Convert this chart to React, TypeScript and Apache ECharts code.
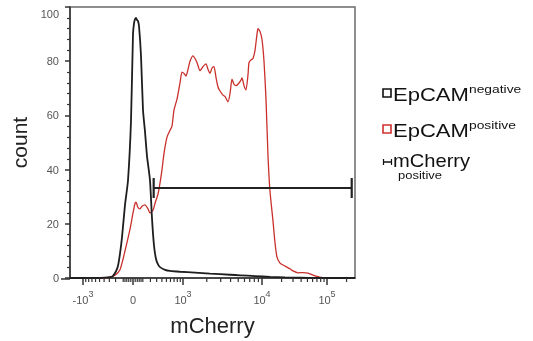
import React, { useEffect, useRef } from "react";
import * as echarts from "echarts";

// Display channel (biexponential display scale) vs. count
const negChannel = [0, 30, 40, 43, 46, 48, 50, 52, 55, 58, 61, 63, 64, 65, 66, 67, 68, 69, 71, 73, 75, 77, 80, 82, 84, 86, 88, 90, 95, 100, 110, 125, 140, 160, 170, 185, 200, 215, 230, 250, 285];
const negCount = [0, 0, 0.3, 0.8, 2.5, 4.5, 9, 15, 27, 36, 58, 90, 94, 95.5, 96, 95.2, 94.8, 93, 82, 62, 54, 45, 36, 22, 12, 7, 5, 4, 3, 2.6, 2.3, 2, 1.6, 1.2, 1, 0.7, 0.4, 0.2, 0.1, 0, 0];

const posChannel = [0, 35, 40, 45, 50, 55, 60, 63, 65, 66, 68, 70, 72, 75, 78, 80, 83, 85, 88, 90, 92, 94, 97, 100, 102, 104, 107, 110, 112, 114, 116, 118, 120, 123, 125, 127, 130, 133, 136, 138, 140, 142, 144, 146, 148, 150, 153, 155, 158, 160, 162, 164, 166, 168, 171, 172, 174, 176, 178, 179, 181, 183, 185, 187, 188, 190, 192, 194, 196, 198, 200, 203, 205, 207, 210, 213, 217, 220, 223, 228, 233, 238, 243, 248, 253, 260, 285];
const posCount = [0, 0, 0.3, 1, 3, 10, 18, 24, 27.5, 28, 26, 25.5, 26.5, 27, 25.5, 24, 25, 27.5, 31, 35, 40, 46, 52, 54.5, 56, 62, 66, 72, 76, 75.5, 74.5, 77, 80, 82, 81, 79.5, 76.5, 78, 79, 77, 75.5, 77.5, 78, 74, 70.5, 69, 67.5, 67, 65, 68, 73.4, 71.5, 71, 71.5, 73, 73.8, 71, 69.4, 75, 79.5, 80.5, 81, 84, 90, 92, 91, 88, 80, 66, 45, 32, 21, 13, 7.7, 5.5, 4.8, 4, 3.4, 2.6, 1.9, 2, 1.8, 1.1, 0.5, 0.1, 0, 0];

// gate "mCherry positive" (mCherry values)
const gateValues = [250, 240000];
const gateCount = 33.2;

// x axis ticks (mCherry values)
const majorTickValues = [-1000, 0, 1000, 10000, 100000];
const majorTickLabels = ["{b|-10}{s|3}", "{b|0}", "{b|10}{s|3}", "{b|10}{s|4}", "{b|10}{s|5}"];
const minorTickValues = [
  -900, -800, -700, -600, -500, -400, -300, -200, -100, -80, -60, -40, -20,
  20, 40, 60, 80, 100, 200, 300, 400, 500, 600, 700, 800, 900,
  2000, 3000, 4000, 5000, 6000, 7000, 8000, 9000,
  20000, 30000, 40000, 50000, 60000, 70000, 80000, 90000, 200000,
];

// biexponential display transform: value -> display channel
function toChannel(v: number): number {
  const s = v < 0 ? -1 : 1;
  const a = Math.abs(v);
  let d: number;
  if (a <= 1000) d = (50 * Math.log(1 + a / 300)) / Math.log(1 + 1000 / 300);
  else if (a <= 10000) d = 50 + 79 * Math.log10(a / 1000);
  else d = 129 + 65 * Math.log10(a / 10000);
  return 63 + s * d;
}

const FONT = "Liberation Sans, Arial, sans-serif";

export default function App() {
  const ref = useRef<HTMLDivElement>(null);
  useEffect(() => {
    if (!ref.current) return;
    const chart = echarts.init(ref.current, undefined, { renderer: "svg" });
    const majorCh = majorTickValues.map(toChannel);
    const legRich = {
      a: { fontSize: 17.5, lineHeight: 20, verticalAlign: "bottom", fill: "#111", fontFamily: FONT },
      b: { fontSize: 11, lineHeight: 10, verticalAlign: "top", fill: "#111", fontFamily: FONT },
    };
    const option: any = {
      animation: false,
      textStyle: { fontFamily: FONT },
      grid: {
        left: 70, top: 7, right: 178, bottom: 62,
        show: true, borderColor: "#6a6a6a", borderWidth: 1.5, backgroundColor: "transparent",
      },
      xAxis: {
        type: "value", min: 0, max: 285,
        name: "mCherry", nameLocation: "middle", nameGap: 36,
        nameTextStyle: { fontSize: 22, color: "#222", fontFamily: FONT },
        axisLine: { show: true, onZero: false, lineStyle: { color: "#333", width: 1.5 } },
        axisTick: { show: true, customValues: majorCh, length: 7, lineStyle: { color: "#333", width: 1.5 } },
        axisLabel: {
          customValues: majorCh, margin: 11, color: "#555",
          formatter: (val: number) => {
            let best = 0;
            for (let i = 0; i < majorCh.length; i++) if (Math.abs(majorCh[i] - val) < Math.abs(majorCh[best] - val)) best = i;
            return majorTickLabels[best];
          },
          rich: {
            b: { fontSize: 11, color: "#555", lineHeight: 16, verticalAlign: "bottom", fontFamily: FONT },
            s: { fontSize: 9, color: "#555", lineHeight: 9, verticalAlign: "top", fontFamily: FONT },
          },
        },
        splitLine: { show: false },
      },
      yAxis: {
        type: "value", min: 0, max: 100, interval: 20,
        name: "count", nameLocation: "middle", nameGap: 40, nameRotate: 90,
        nameTextStyle: { fontSize: 21, color: "#222", fontFamily: FONT },
        axisLine: { show: true, onZero: false, lineStyle: { color: "#333", width: 1.5 } },
        axisTick: { show: true, length: 5, lineStyle: { color: "#333", width: 1.5 } },
        minorTick: { show: true, splitNumber: 5, length: 3, lineStyle: { color: "#333", width: 1.2 } },
        axisLabel: {
          fontSize: 11, color: "#555", margin: 11,
          formatter: (v: number) => (v === 100 ? "{t|100}" : String(v)),
          rich: { t: { fontSize: 11, color: "#555", padding: [14, 0, 0, 0], fontFamily: FONT } },
        },
        splitLine: { show: false },
      },
      series: [
        {
          name: "EpCAM negative", type: "line", showSymbol: false, symbol: "none",
          data: negChannel.map((c, i) => [c, negCount[i]]),
          lineStyle: { color: "#1e1e1e", width: 1.8 }, smooth: 0.2, z: 3,
        },
        {
          name: "EpCAM positive", type: "line", showSymbol: false, symbol: "none",
          data: posChannel.map((c, i) => [c, posCount[i]]),
          lineStyle: { color: "#c9302c", width: 1.3 }, smooth: 0.2, z: 2,
        },
        {
          name: "mCherry positive", type: "line", symbol: "rect", symbolSize: [2.2, 20], showSymbol: true,
          data: gateValues.map((v) => [toChannel(v), gateCount]),
          lineStyle: { color: "#222", width: 2 }, itemStyle: { color: "#222" }, z: 4,
        },
        {
          type: "custom", silent: true, clip: false, z: 5,
          data: minorTickValues.map((v) => [toChannel(v), 0]),
          renderItem: (params: any, api: any) => {
            const p = api.coord([api.value(0), 0]);
            return {
              type: "line",
              shape: { x1: p[0], y1: p[1], x2: p[0], y2: p[1] + 4 },
              style: { stroke: "#333", lineWidth: 1.2 },
            };
          },
        },
      ],
      graphic: [
        { type: "line", shape: { x1: 61, y1: 279, x2: 70, y2: 279 }, style: { stroke: "#333", lineWidth: 1.5 } },
        // legend
        { type: "rect", shape: { x: 383, y: 89, width: 8, height: 8 }, style: { fill: "none", stroke: "#111", lineWidth: 1.6 } },
        {
          type: "text", x: 393, y: 94, scaleX: 1.26,
          style: { text: "{a|EpCAM}{b|negative}", verticalAlign: "middle", fill: "#111", rich: legRich },
        },
        { type: "rect", shape: { x: 383, y: 125, width: 8, height: 8 }, style: { fill: "none", stroke: "#d0302c", lineWidth: 1.6 } },
        {
          type: "text", x: 393, y: 130, scaleX: 1.26,
          style: { text: "{a|EpCAM}{b|positive}", verticalAlign: "middle", fill: "#111", rich: legRich },
        },
        { type: "line", shape: { x1: 383, y1: 162, x2: 392, y2: 162 }, style: { stroke: "#111", lineWidth: 1.5 } },
        { type: "line", shape: { x1: 383.5, y1: 159, x2: 383.5, y2: 165 }, style: { stroke: "#111", lineWidth: 1.2 } },
        { type: "line", shape: { x1: 391.5, y1: 159, x2: 391.5, y2: 165 }, style: { stroke: "#111", lineWidth: 1.2 } },
        { type: "text", x: 393, y: 161, scaleX: 1.15, style: { text: "mCherry", fontSize: 17.5, fill: "#111", verticalAlign: "middle", fontFamily: FONT } },
        { type: "text", x: 398, y: 175.5, scaleX: 1.18, style: { text: "positive", fontSize: 11, fill: "#111", verticalAlign: "middle", fontFamily: FONT } },
      ],
    };
    chart.setOption(option);
    return () => chart.dispose();
  }, []);
  return <div ref={ref} style={{ position: "fixed", left: 0, top: 0, width: 533, height: 341 }} />;
}
